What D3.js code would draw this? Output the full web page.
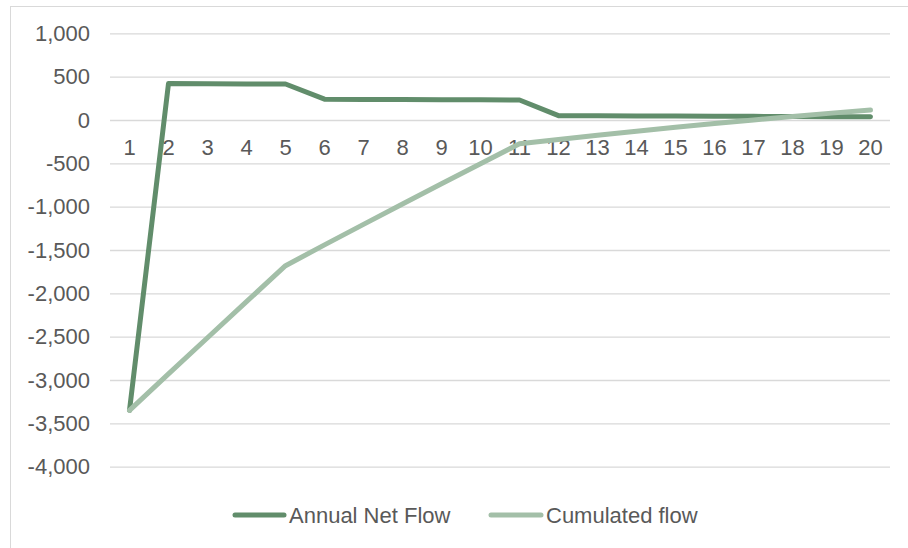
<!DOCTYPE html>
<html>
<head>
<meta charset="utf-8">
<script src="https://cdn.jsdelivr.net/npm/d3@7"></script>
<style>
  html, body { margin: 0; padding: 0; background: #fff; }
  svg { display: block; }
  text { font-family: "Liberation Sans", Arial, sans-serif; fill: #595959; }
</style>
</head>
<body>
<svg id="chart" width="908" height="548"></svg>
<script>
const years = ["1","2","3","4","5","6","7","8","9","10","11","12","13","14","15","16","17","18","19","20"];
const annualNetFlow = [-3350, 420, 418, 416, 415, 240, 237, 235, 233, 232, 230, 50, 48, 46, 45, 44, 42, 40, 38, 36];
const cumulatedFlow = [-3350, -2930, -2512, -2096, -1681, -1441, -1204, -969, -736, -504, -274, -224, -176, -130, -85, -41, 1, 41, 79, 115];
const yTicks = [1000, 500, 0, -500, -1000, -1500, -2000, -2500, -3000, -3500, -4000];
const seriesNames = ["Annual Net Flow", "Cumulated flow"];
const seriesColors = ["#618d6b", "#a3bfa8"];

const svg = d3.select("#chart");
const plot = { left: 110, right: 890, top: 33.3, bottom: 466.7 };

// outer chart border (extends beyond the visible frame on right/bottom)
svg.append("rect")
  .attr("x", 10.5).attr("y", 6.5)
  .attr("width", 1000).attr("height", 1000)
  .attr("fill", "none").attr("stroke", "#d9d9d9").attr("stroke-width", 1);

const x = d3.scaleBand().domain(years).range([plot.left, plot.right]).paddingInner(0).paddingOuter(0);
const y = d3.scaleLinear().domain([-4000, 1000]).range([plot.bottom, plot.top]);

const fmt = d3.formatLocale({ decimal: ".", thousands: ",", grouping: [3], currency: ["", ""], minus: "-" }).format(",");

// gridlines + value labels
const yAxis = d3.axisLeft(y).tickValues(yTicks).tickSize(-(plot.right - plot.left)).tickFormat(fmt);
const gy = svg.append("g").attr("transform", `translate(${plot.left},0)`).call(yAxis);
gy.select(".domain").remove();
gy.selectAll(".tick line").attr("stroke", "#d9d9d9").attr("stroke-width", 1.3);
gy.selectAll(".tick text")
  .attr("x", -20)
  .style("font-family", "'Liberation Sans', Arial, sans-serif")
  .style("font-size", "22px").attr("fill", "#595959");

// category axis labels next to zero line
const xAxis = d3.axisBottom(x).tickSize(0).tickPadding(19);
const gx = svg.append("g").attr("transform", `translate(0,${y(0)})`).call(xAxis);
gx.select(".domain").remove();
gx.selectAll(".tick text")
  .style("font-family", "'Liberation Sans', Arial, sans-serif")
  .style("font-size", "22px").attr("fill", "#595959");

const line = d3.line()
  .x((d, i) => x(years[i]) + x.bandwidth() / 2)
  .y(d => y(d));

[annualNetFlow, cumulatedFlow].forEach((vals, k) => {
  svg.append("path")
    .datum(vals)
    .attr("d", line)
    .attr("fill", "none")
    .attr("stroke", seriesColors[k])
    .attr("stroke-width", 5)
    .attr("stroke-linejoin", "round")
    .attr("stroke-linecap", "round");
});

// legend
const legendItems = [
  { x1: 235, x2: 284, tx: 289 },
  { x1: 491, x2: 541, tx: 546 }
];
const ly = 515;
seriesNames.forEach((name, k) => {
  const it = legendItems[k];
  svg.append("line")
    .attr("x1", it.x1).attr("x2", it.x2).attr("y1", ly).attr("y2", ly)
    .attr("stroke", seriesColors[k]).attr("stroke-width", 5).attr("stroke-linecap", "round");
  svg.append("text")
    .attr("x", it.tx).attr("y", ly).attr("dy", "0.35em")
    .style("font-size", "22px")
    .text(name);
});
</script>
</body>
</html>
